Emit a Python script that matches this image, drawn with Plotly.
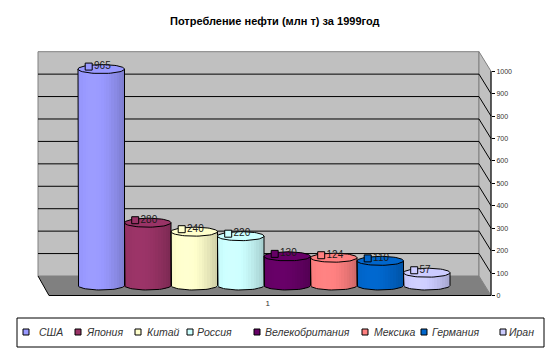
import numpy as np
import plotly.graph_objects as go

# ---- data ----
countries = ["США", "Япония", "Китай", "Россия", "Велекобритания", "Мексика", "Германия", "Иран"]
values = [965, 280, 240, 220, 130, 124, 110, 57]
colors = ["#9999FF", "#993366", "#FFFFCC", "#CCFFFF", "#660066", "#FF8080", "#0066CC", "#CCCCFF"]
axis_ticks = list(range(0, 1001, 100))
category_labels = ["1"]
title_text = "Потребление нефти (млн т) за 1999год"

# ---- geometry (pixels) ----
W, H = 549, 354
K = 0.2243            # px per value unit
Y0_MID = 285.5        # value 0 at cylinder depth
Y0_AXIS = 295.5       # value 0 at front axis
Y0_WALL = 276.0       # value 0 at back wall
BAR_LEFT, BAR_W = 78.0, 46.5
WALL_L, WALL_R = 38.0, 479.0
DX = 12.0
AXIS_X = WALL_R + DX
FRONT_L = WALL_L + 11

def xd(p):  # pixel -> x data
    return (p - BAR_LEFT) / BAR_W - 0.5

def fx(p):
    return p / W

def fy(p):
    return 1 - p / H

def shade(hexc, m):
    r, g, b = int(hexc[1:3], 16), int(hexc[3:5], 16), int(hexc[5:7], 16)
    return "rgb(%d,%d,%d)" % tuple(min(255, max(0, round(c * m))) for c in (r, g, b))

fig = go.Figure()
B = 4.5 / K           # ellipse semi-axis in value units
NS = 18
for i, (name, v, c) in enumerate(zip(countries, values, colors)):
    u = (np.arange(NS) + 0.5) / NS * 2 - 1
    xs = i + u / 2
    base = -B * np.sqrt(np.clip(1 - u ** 2, 0, 1))
    mult = 0.82 + 0.2 * np.cos((u + 0.35) * np.pi / 2.6)
    cols = [shade(c, m) for m in mult]
    fig.add_trace(go.Bar(x=xs, y=v - base, base=base, width=1.0 / NS + 0.005,
                         marker=dict(color=cols, line=dict(width=0)),
                         showlegend=False, hoverinfo="skip", name=name))
    t = np.linspace(0, 2 * np.pi, 61)
    fig.add_trace(go.Scatter(x=i + 0.5 * np.cos(t), y=v + B * np.sin(t), mode="lines",
                             fill="toself", fillcolor=c, line=dict(color="black", width=1),
                             showlegend=False, hoverinfo="skip"))
    tb = np.linspace(np.pi, 2 * np.pi, 31)
    ox = np.concatenate([[i - 0.5], i + 0.5 * np.cos(tb), [i + 0.5]])
    oy = np.concatenate([[v], B * np.sin(tb), [v]])
    fig.add_trace(go.Scatter(x=ox, y=oy, mode="lines", line=dict(color="black", width=1),
                             showlegend=False, hoverinfo="skip"))

# data labels
fig.add_trace(go.Scatter(x=[i - 0.27 for i in range(len(values))], y=[v + 11 for v in values],
                         mode="markers+text", text=[str(v) for v in values],
                         textposition="middle right",
                         textfont=dict(family="Liberation Sans, Arial", size=10, color="#1a1a1a"),
                         marker=dict(symbol="square", size=7, color=colors,
                                     line=dict(color="black", width=1)),
                         showlegend=False, hoverinfo="skip", cliponaxis=False))

# axis line on the value axis
fig.add_trace(go.Scatter(x=[xd(AXIS_X)] * 2, y=[axis_ticks[0], axis_ticks[-1]], yaxis="y2",
                         mode="lines", line=dict(color="black", width=1),
                         showlegend=False, hoverinfo="skip"))

shapes = []
# back wall
shapes.append(dict(type="path", xref="paper", yref="paper", layer="below",
                   path="M %f %f L %f %f L %f %f L %f %f Z" % (
                       fx(WALL_L), fy(Y0_WALL - 1000 * K), fx(WALL_R), fy(Y0_WALL - 1000 * K),
                       fx(WALL_R), fy(Y0_WALL), fx(WALL_L), fy(Y0_WALL)),
                   fillcolor="#C0C0C0", line=dict(color="#808080", width=1)))
# side wall
shapes.append(dict(type="path", xref="paper", yref="paper", layer="below",
                   path="M %f %f L %f %f L %f %f L %f %f Z" % (
                       fx(WALL_R), fy(Y0_WALL - 1000 * K), fx(AXIS_X), fy(Y0_AXIS - 1000 * K),
                       fx(AXIS_X), fy(Y0_AXIS), fx(WALL_R), fy(Y0_WALL)),
                   fillcolor="#C0C0C0", line=dict(color="#808080", width=1)))
# floor
shapes.append(dict(type="path", xref="paper", yref="paper", layer="below",
                   path="M %f %f L %f %f L %f %f L %f %f Z" % (
                       fx(WALL_L), fy(Y0_WALL), fx(WALL_R), fy(Y0_WALL),
                       fx(AXIS_X), fy(Y0_AXIS), fx(FRONT_L), fy(Y0_AXIS)),
                   fillcolor="#808080", line=dict(width=0)))
shapes.append(dict(type="path", xref="paper", yref="paper", layer="below",
                   path="M %f %f L %f %f L %f %f" % (
                       fx(WALL_L), fy(Y0_WALL), fx(FRONT_L), fy(Y0_AXIS), fx(AXIS_X), fy(Y0_AXIS)),
                   line=dict(color="black", width=1)))
# gridlines
for tv in axis_ticks[1:-1]:
    wy = Y0_WALL - tv * K
    ay = Y0_AXIS - tv * K
    shapes.append(dict(type="path", xref="paper", yref="paper", layer="below",
                       path="M %f %f L %f %f L %f %f" % (fx(WALL_L), fy(wy), fx(WALL_R), fy(wy),
                                                         fx(AXIS_X), fy(ay)),
                       line=dict(color="black", width=1)))

# legend (custom, Excel-like)
leg_sq = [26, 78, 138, 190, 257, 365, 424, 503]
leg_tx = [37, 84, 145, 195, 263, 372, 430, 507]
LEG_Y = 332
shapes.append(dict(type="rect", xref="paper", yref="paper", x0=fx(17), x1=fx(544),
                   y0=fy(318), y1=fy(347), line=dict(color="black", width=1)))
annotations = []
for sx, tx, name, c in zip(leg_sq, leg_tx, countries, colors):
    shapes.append(dict(type="rect", xref="paper", yref="paper", x0=fx(sx - 3), x1=fx(sx + 3),
                       y0=fy(LEG_Y + 3), y1=fy(LEG_Y - 3), fillcolor=c,
                       line=dict(color="black", width=1)))
    annotations.append(dict(x=fx(tx), y=fy(LEG_Y), xref="paper", yref="paper",
                            text="<i>" + name + "</i>",
                            showarrow=False, xanchor="left", yanchor="middle",
                            font=dict(family="Liberation Sans, Arial", size=10.5, color="#333333")))
annotations.append(dict(x=fx(275), y=fy(21), xref="paper", yref="paper",
                        text="<b>" + title_text + "</b>", showarrow=False,
                        xanchor="center", yanchor="middle",
                        font=dict(family="Liberation Sans, Arial", size=11, color="black")))

fig.update_layout(
    width=W, height=H, margin=dict(l=0, r=0, t=0, b=0), autosize=False,
    paper_bgcolor="white", plot_bgcolor="white", barmode="overlay", bargap=0,
    shapes=shapes, annotations=annotations, showlegend=False,
    xaxis=dict(range=[xd(0), xd(W)], domain=[0, 1], anchor="free", position=fy(297),
               tickvals=[(len(values) - 1) / 2 + 0.08], ticktext=category_labels,
               tickfont=dict(family="Liberation Sans, Arial", size=8, color="#333333"),
               showgrid=False, zeroline=False, showline=False, ticks=""),
    yaxis=dict(range=[(Y0_MID - H) / K, Y0_MID / K], domain=[0, 1], visible=False,
               showgrid=False, zeroline=False),
    yaxis2=dict(range=[(Y0_AXIS - H) / K, Y0_AXIS / K], domain=[0, 1], overlaying="y",
                anchor="free", position=fx(AXIS_X), side="right", tickvals=axis_ticks,
                ticks="outside", ticklen=3, tickcolor="black", showgrid=False,
                zeroline=False, showline=False,
                tickfont=dict(family="Liberation Sans, Arial", size=7, color="#333333")),
)

fig.write_html("out.html")
